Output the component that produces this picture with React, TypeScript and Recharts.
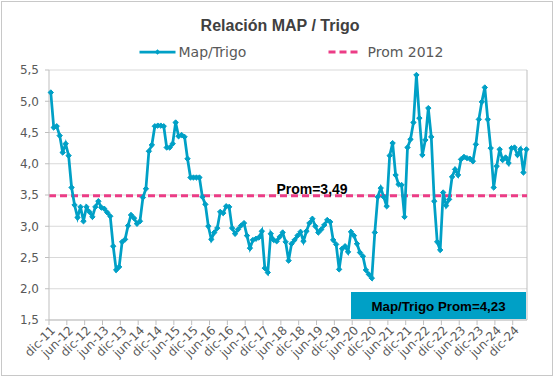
import React from 'react';
import { LineChart, Line, XAxis, YAxis, CartesianGrid, ReferenceLine, Customized } from 'recharts';

// Monthly MAP / Trigo ratio, dic-11 .. abr-25
const mapTrigo: number[] = [
  5.14, 4.58, 4.60, 4.45, 4.18, 4.32, 4.13, 3.62, 3.34, 3.14,
  3.31, 3.08, 3.31, 3.23, 3.15, 3.31, 3.40, 3.30, 3.28, 3.22,
  3.16, 2.68, 2.30, 2.35, 2.75, 2.79, 3.01, 3.18, 3.13, 3.04,
  3.08, 3.46, 3.60, 4.20, 4.30, 4.60, 4.61, 4.61, 4.60, 4.26,
  4.26, 4.32, 4.66, 4.44, 4.46, 4.43, 4.08, 3.78, 3.78, 3.78,
  3.78, 3.47, 3.35, 3.00, 2.79, 2.90, 2.97, 3.23, 3.21, 3.32,
  3.31, 2.97, 2.88, 2.95, 3.01, 3.05, 2.85, 2.65, 2.78, 2.80,
  2.82, 2.92, 2.33, 2.26, 2.88, 2.78, 2.76, 2.83, 2.90, 2.75,
  2.45, 2.72, 2.78, 2.85, 2.91, 2.76, 2.92, 3.05, 3.12, 3.00,
  2.90, 2.95, 3.02, 3.10, 3.07, 2.78, 2.71, 2.31, 2.64, 2.68,
  2.59, 2.91, 2.85, 2.72, 2.58, 2.52, 2.30, 2.23, 2.17, 2.90,
  3.47, 3.61, 3.47, 3.32, 4.13, 4.33, 3.82, 3.67, 3.66, 3.15,
  4.26, 4.39, 4.66, 5.42, 4.73, 4.14, 4.38, 4.89, 4.43, 3.40,
  2.75, 2.62, 3.54, 3.33, 3.43, 3.79, 3.91, 3.82, 4.07, 4.11,
  4.09, 4.08, 4.04, 4.31, 4.71, 4.99, 5.22, 4.71, 4.25, 3.62,
  3.96, 4.23, 4.06, 4.10, 4.01, 4.25, 4.26, 4.14, 4.23, 3.86,
  4.23,
];

const xTickLabels: string[] = [
  'dic-11', 'jun-12', 'dic-12', 'jun-13', 'dic-13', 'jun-14', 'dic-14', 'jun-15', 'dic-15',
  'jun-16', 'dic-16', 'jun-17', 'dic-17', 'jun-18', 'dic-18', 'jun-19', 'dic-19', 'jun-20',
  'dic-20', 'jun-21', 'dic-21', 'jun-22', 'dic-22', 'jun-23', 'dic-23', 'jun-24', 'dic-24',
];

const yTicks: number[] = [1.5, 2.0, 2.5, 3.0, 3.5, 4.0, 4.5, 5.0, 5.5];

const PROM_2012 = 3.49;
const PROM_TOTAL = 4.23;
const TICK_STEP = 6;
const DAY_OFFSET = 0.6; // point position inside its month
const X_MAX = 160.8;

const BLUE = '#00A0C6';
const PINK = '#EC3C86';
const GRAY_TEXT = '#595959';
const AXIS_GRAY = '#BFBFBF';
const GRID_GRAY = '#D9D9D9';

const data = mapTrigo.map((v, i) => ({ x: i + DAY_OFFSET, v }));

const Diamond = (props: any) => {
  const { cx, cy } = props;
  if (cx == null || cy == null) return null;
  const s = 2.7;
  return (
    <path
      d={`M${cx},${cy - s}L${cx + s},${cy}L${cx},${cy + s}L${cx - s},${cy}Z`}
      fill={BLUE}
      stroke={BLUE}
      strokeWidth={1}
    />
  );
};

const XTick = (props: any) => {
  const { x, y, payload } = props;
  const ax = x + 7;
  const ay = y + 4;
  return (
    <text
      x={ax}
      y={ay}
      textAnchor="end"
      transform={`rotate(-45, ${ax}, ${ay})`}
      fontFamily="DejaVu Sans"
      fontSize={12}
      fill={GRAY_TEXT}
    >
      {xTickLabels[Math.round(payload.value / TICK_STEP)]}
    </text>
  );
};

const PromLabel = (props: any) => {
  const { viewBox } = props;
  return (
    <text
      x={312}
      y={viewBox.y - 2}
      textAnchor="middle"
      fontFamily="Liberation Sans"
      fontWeight="bold"
      fontSize={14}
      fill="#000"
    >
      {`Prom=${PROM_2012.toFixed(2).replace('.', ',')}`}
    </text>
  );
};

const Decorations = () => (
  <g>
    <text
      x={280}
      y={30.5}
      textAnchor="middle"
      fontFamily="Liberation Sans"
      fontWeight="bold"
      fontSize={16}
      fill="#404040"
    >
      Relación MAP / Trigo
    </text>
    {/* legend */}
    <line x1={139.5} y1={52} x2={175.5} y2={52} stroke={BLUE} strokeWidth={2.75} />
    <path d="M157.5,49.2L160.3,52L157.5,54.8L154.7,52Z" fill={BLUE} />
    <text x={178.5} y={56.8} fontFamily="DejaVu Sans" fontSize={14} fill={GRAY_TEXT}>
      Map/Trigo
    </text>
    <line x1={328.5} y1={52} x2={361} y2={52} stroke={PINK} strokeWidth={3} strokeDasharray="7 4" />
    <text x={367.5} y={56.8} fontFamily="DejaVu Sans" fontSize={14} fill={GRAY_TEXT}>
      Prom 2012
    </text>
    {/* average box */}
    <rect x={351} y={292} width={175} height={27} fill={BLUE} />
    <text
      x={438.5}
      y={310.5}
      textAnchor="middle"
      fontFamily="Liberation Sans"
      fontWeight="bold"
      fontSize={13.3}
      fill="#000"
    >
      {`Map/Trigo Prom=${PROM_TOTAL.toFixed(2).replace('.', ',')}`}
    </text>
  </g>
);

export default function App() {
  return (
    <div
      style={{
        position: 'absolute',
        left: 0,
        top: 0,
        width: 554,
        height: 377,
        background: '#fff',
      }}
    >
      <div
        style={{
          position: 'absolute',
          left: 1,
          top: 1,
          width: 550,
          height: 373,
          border: '1px solid #C8C8C8',
        }}
      />
      <div style={{ position: 'absolute', left: 0, top: 0 }}>
        <LineChart
          width={554}
          height={377}
          data={data}
          margin={{ top: 70, right: 27, left: 0, bottom: 0 }}
        >
          <CartesianGrid vertical={false} stroke={GRID_GRAY} />
          <XAxis
            type="number"
            dataKey="x"
            domain={[0, X_MAX]}
            ticks={xTickLabels.map((_, k) => k * TICK_STEP)}
            interval={0}
            height={57}
            tick={<XTick />}
            tickSize={5}
            stroke={AXIS_GRAY}
            tickLine={{ stroke: AXIS_GRAY }}
          />
          <YAxis
            type="number"
            domain={[1.5, 5.5]}
            ticks={yTicks}
            interval={0}
            width={49}
            tickSize={4}
            tickMargin={6}
            stroke={AXIS_GRAY}
            tick={{ fontFamily: 'DejaVu Sans', fontSize: 12, fill: GRAY_TEXT }}
            tickFormatter={(v: number) => v.toFixed(1).replace('.', ',')}
          />
          <ReferenceLine x={X_MAX} stroke={AXIS_GRAY} />
          <ReferenceLine
            y={PROM_2012}
            stroke={PINK}
            strokeWidth={3}
            strokeDasharray="7 4"
            label={<PromLabel />}
          />
          <Line
            type="linear"
            dataKey="v"
            stroke={BLUE}
            strokeWidth={2.75}
            dot={<Diamond />}
            activeDot={false}
            isAnimationActive={false}
          />
          <Customized component={Decorations} />
        </LineChart>
      </div>
    </div>
  );
}
